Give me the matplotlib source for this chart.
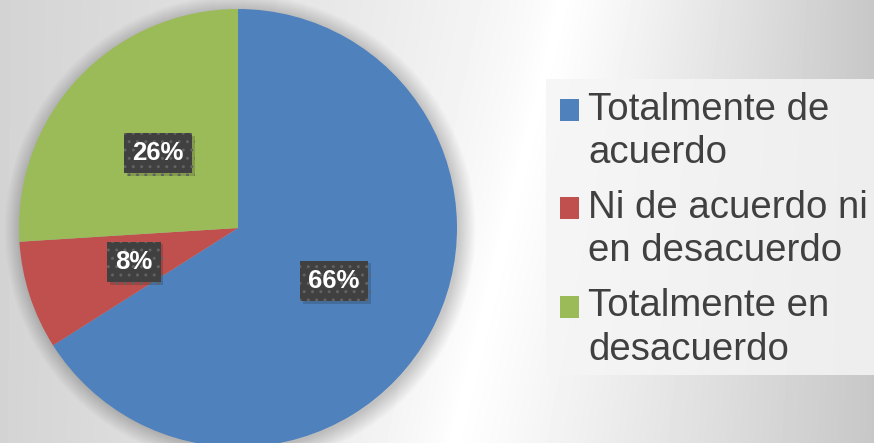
import numpy as np
import matplotlib.pyplot as plt
import matplotlib.patheffects as pe
from matplotlib.patches import Patch, Circle, Rectangle
from matplotlib.legend_handler import HandlerPatch

plt.rcParams['font.family'] = ['Liberation Sans', 'DejaVu Sans']

categorias = ['Totalmente de\nacuerdo', 'Ni de acuerdo ni\nen desacuerdo', 'Totalmente en\ndesacuerdo']
porcentajes = [66, 8, 26]
colores = ['#4f81bd', '#c0504d', '#9bbb59']

W, H = 874, 443
fig = plt.figure(figsize=(W / 100, H / 100), dpi=100)

# fondo degradado gris
bg = fig.add_axes([0, 0, 1, 1], zorder=-10)
xx, yy = np.meshgrid(np.arange(W), np.arange(H))
cx = 560 - 0.25 * yy
v = np.where(xx > cx, 1 - 0.22 * np.clip((xx - cx) / (W - cx), 0, 1) ** 1.1,
             1 - 0.17 * np.clip((cx - xx) / cx, 0, 1) ** 0.7)
bg.imshow(v, cmap='gray', vmin=0, vmax=1, aspect='auto', interpolation='bilinear')
bg.axis('off')

ax = fig.add_axes([19 / W, -4 / H, 438 / W, 438 / H])
# sombra suave del pastel
for k in range(16):
    ax.add_patch(Circle((0.01, -0.01), 1 + 0.005 * k, color='black', alpha=0.012, lw=0,
                        zorder=0, clip_on=False))

wedges, texts, autotexts = ax.pie(porcentajes, colors=colores, startangle=90, counterclock=False,
                                  autopct='%1.0f%%', pctdistance=0.5, radius=1,
                                  wedgeprops=dict(linewidth=0),
                                  textprops=dict(color='white', fontsize=18.5, fontweight='bold'))
for w in wedges:
    w.set_zorder(2)
for t in autotexts:
    t.set_zorder(5)
    t.set_bbox(dict(boxstyle='square,pad=0.32', facecolor='#404040', edgecolor='#626262',
                    linewidth=0, hatch='..'))
    t.get_bbox_patch().set_path_effects([pe.SimplePatchShadow(offset=(2, -2), alpha=0.18), pe.Normal()])
ax.set_xlim(-1, 1)
ax.set_ylim(-1, 1)
ax.set_aspect('equal')
ax.axis('off')

# caja de la leyenda
fig.patches.append(Rectangle((546 / W, 1 - 375 / H), (W - 546) / W, (375 - 79) / H,
                             transform=fig.transFigure, facecolor='#f5f5f5', alpha=0.85,
                             edgecolor='none', zorder=1))


def cuadro_arriba(legend, orig_handle, xdescent, ydescent, width, height, fontsize):
    # marcador alineado con la primera linea del texto
    return Rectangle((-xdescent, -ydescent + 0.57 * fontsize), width, height)


handles = [Patch(facecolor=c, edgecolor='none') for c in colores]
leg = fig.legend(handles, categorias, loc='upper left', bbox_to_anchor=(550 / W, 1 - 82 / H),
                 fontsize=27.6, frameon=False, handlelength=0.5, handleheight=0.5,
                 handletextpad=0.25, labelspacing=0.5, borderpad=0.25, borderaxespad=0,
                 handler_map={Patch: HandlerPatch(patch_func=cuadro_arriba)})
for t in leg.get_texts():
    t.set_color('#404040')
    t.set_linespacing(1.26)

fig.savefig('out.png', dpi=100)
